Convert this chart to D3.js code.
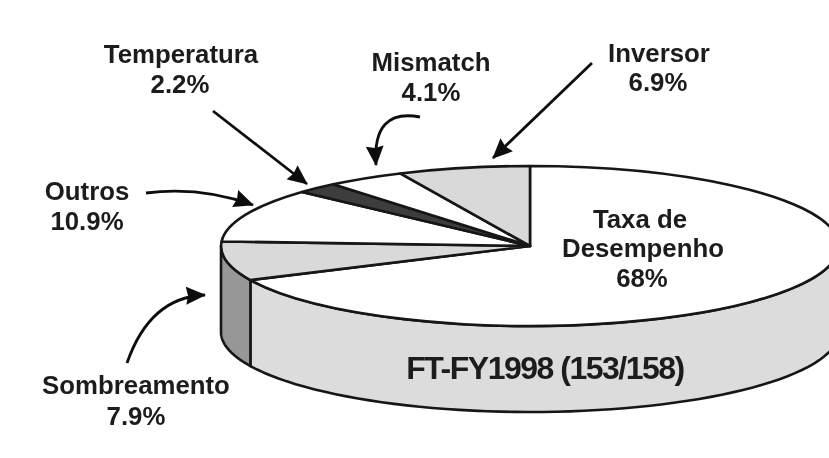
<!DOCTYPE html>
<html><head><meta charset="utf-8">
<script src="https://cdn.jsdelivr.net/npm/d3@7"></script>
<style>html,body{margin:0;padding:0;background:#fff;overflow:hidden}svg{display:block}
text{font-family:"Liberation Sans",Arial,sans-serif;font-weight:bold;fill:#1c1c1c;text-anchor:middle}</style>
</head><body><svg id="c" width="829" height="458"></svg>
<script>
const categories = ["Taxa de Desempenho","Sombreamento","Outros","Temperatura","Mismatch","Inversor"];
const values = [68, 7.9, 10.9, 2.2, 4.1, 6.9];
const topColors = ["#ffffff","#d9d9d9","#ffffff","#3d3d3d","#ffffff","#d9d9d9"];
const wallColors = ["#dcdcdc","#979797","#dcdcdc","#dcdcdc","#dcdcdc","#dcdcdc"];
const chartTitle = "FT-FY1998 (153/158)";
const labelLines = [
  [["Taxa de",640,228],["Desempenho",643,257],["68%",642,287]],
  [["Sombreamento",136,394],["7.9%",136,425]],
  [["Outros",87,200],["10.9%",87,230]],
  [["Temperatura",181,63],["2.2%",180,93]],
  [["Mismatch",431,71],["4.1%",431,101]],
  [["Inversor",659,62],["6.9%",658,91]]
];
const cx=530, cy=246, rx=309, ry=80, depth=86;
const svg=d3.select("#c");
const defs=svg.append("defs");
defs.append("filter").attr("id","soft").attr("x","-5%").attr("y","-5%").attr("width","110%").attr("height","110%")
  .append("feGaussianBlur").attr("stdDeviation",0.65);
defs.append("marker").attr("id","ah").attr("markerUnits","userSpaceOnUse")
  .attr("viewBox","0 0 20 18").attr("markerWidth",20).attr("markerHeight",18)
  .attr("refX",19).attr("refY",9).attr("orient","auto")
  .append("path").attr("d","M0,0L20,9L0,18L2,9Z").attr("fill","#111");
const root=svg.append("g").attr("filter","url(#soft)");

const pie=d3.pie().sort(null).startAngle(0).endAngle(2*Math.PI);
const arcs=pie(values);
const xOf=a=>cx+rx*Math.sin(a), yOf=a=>cy-ry*Math.cos(a);

// walls: the part of each slice rim on the front half
const wall=root.append("g");
arcs.forEach((d,i)=>{
  const a0=Math.max(d.startAngle,Math.PI/2), a1=Math.min(d.endAngle,3*Math.PI/2);
  if(a1<=a0) return;
  const ang=d3.range(0,61).map(k=>a0+(a1-a0)*k/60);
  const line=d3.line().x(a=>xOf(a));
  const top=line.y(a=>yOf(a))(ang);
  const bot=line.y(a=>yOf(a)+depth)(ang.slice().reverse());
  wall.append("path").attr("d",top+"L"+bot.slice(1)+"Z")
    .attr("fill",wallColors[i]).attr("stroke","#161616").attr("stroke-width",2.6)
    .attr("stroke-linejoin","round");
});

// top face: d3.arc on a unit circle, squashed into the ellipse
const arc=d3.arc().innerRadius(0).outerRadius(1);
root.append("g").attr("transform",`translate(${cx},${cy}) scale(${rx},${ry})`)
  .selectAll("path").data(arcs).join("path")
  .attr("d",arc).attr("fill",(d,i)=>topColors[i])
  .attr("stroke","#161616").attr("stroke-width",2.6)
  .attr("stroke-linejoin","round")
  .attr("vector-effect","non-scaling-stroke");

// leader arrows
const arrows=[
  "M127,363Q150,297 205,295",
  "M146,193Q200,186 253,205",
  "M213,111L307,184",
  "M420,117Q372,108 376,165",
  "M592,63L493,158"
];
root.append("g").selectAll("path").data(arrows).join("path")
  .attr("d",d=>d).attr("fill","none").attr("stroke","#111").attr("stroke-width",2.8)
  .attr("marker-end","url(#ah)");

// labels
root.append("g").selectAll("text").data(labelLines.flat()).join("text")
  .attr("x",d=>d[1]).attr("y",d=>d[2]).attr("font-size",25.8).text(d=>d[0]);
root.append("text").attr("x",545).attr("y",379).attr("font-size",32)
  .attr("letter-spacing",-1.5).text(chartTitle);
</script></body></html>
